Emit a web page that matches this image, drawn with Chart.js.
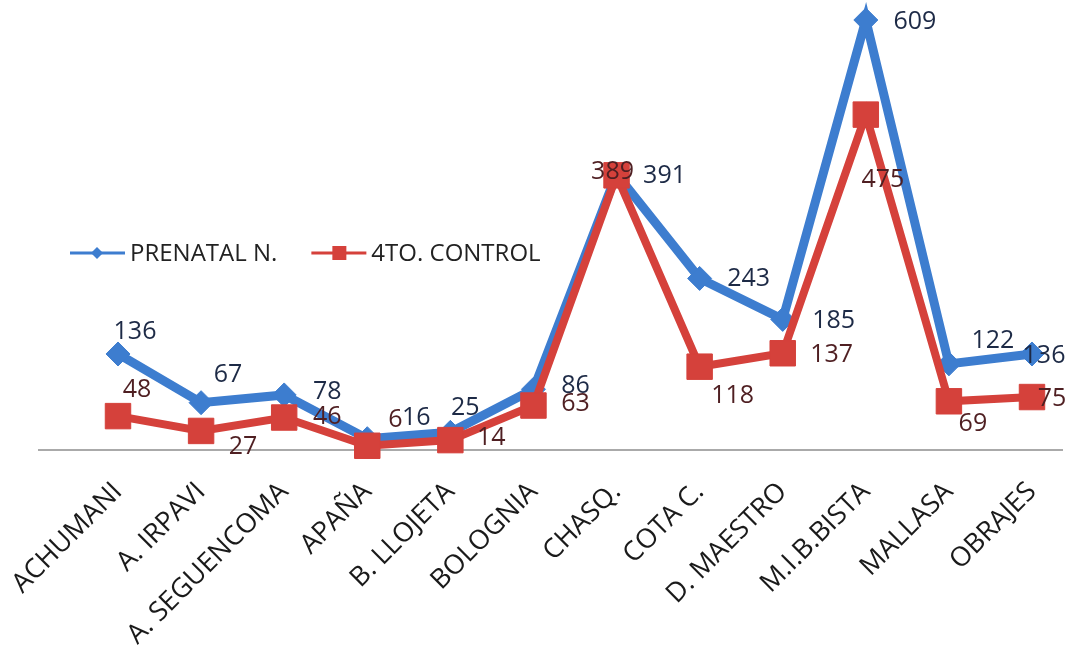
<!DOCTYPE html>
<html>
<head>
<meta charset="utf-8">
<script src="https://cdn.jsdelivr.net/npm/chart.js@4.4.1/dist/chart.umd.min.js"></script>
<style>
  body { margin: 0; background: #fff; }
  canvas { display: block; }
</style>
</head>
<body>
<canvas id="myChart" width="1068" height="657"></canvas>
<script>
    "use strict";

    // categories and values
    const centros = ['ACHUMANI', 'A. IRPAVI', 'A. SEGUENCOMA', 'APAÑA', 'B. LLOJETA', 'BOLOGNIA',
        'CHASQ.', 'COTA C.', 'D. MAESTRO', 'M.I.B.BISTA', 'MALLASA', 'OBRAJES'];
    const prenatal = [136, 67, 78, 16, 25, 86, 391, 243, 185, 609, 122, 136];
    const control4 = [48, 27, 46, 6, 14, 63, 389, 118, 137, 475, 69, 75];

    const BLUE = '#3d7dcf';
    const RED = '#d5413b';

    // label centre offsets from each point (px), per dataset
    const labelOffset = [
        [[17, -22], [27, -28], [43, -3], [49, -21], [15, -24], [42, -3], [48, 2], [49, 0], [51, 1], [49, 2], [44, -23], [12, 2]],
        [[19, -26], [42, 16], [43, -1], [28, -26], [41, -2], [42, -2], [-4, -3], [33, 29], [49, 2], [17, 65], [24, 23], [20, 2]]
    ];
    const labelColor = ['#1d2a46', '#4f1f22'];

    const valueLabels = {
        id: 'valueLabels',
        afterDatasetsDraw(chart) {
            const ctx = chart.ctx;
            ctx.save();
            ctx.font = '25px "Open Sans", sans-serif';
            ctx.textBaseline = 'middle';
            ctx.textAlign = 'center';
            chart.data.datasets.forEach((ds, di) => {
                const meta = chart.getDatasetMeta(di);
                meta.data.forEach((pt, i) => {
                    const off = labelOffset[di][i];
                    ctx.fillStyle = labelColor[di];
                    ctx.fillText(String(ds.data[i]), pt.x + off[0], pt.y + off[1]);
                });
            });
            ctx.restore();
        }
    };

    // baseline and the legend drawn inside the plot
    const decor = {
        id: 'decor',
        beforeDatasetsDraw(chart) {
            const ctx = chart.ctx;
            const y0 = chart.scales.y.getPixelForValue(0);
            ctx.save();
            ctx.strokeStyle = '#8e8e8e';
            ctx.lineWidth = 1.5;
            ctx.beginPath();
            ctx.moveTo(38, y0);
            ctx.lineTo(chart.width - 5, y0);
            ctx.stroke();
            ctx.restore();
        },
        afterDraw(chart) {
            const ctx = chart.ctx;
            const area = chart.chartArea;
            const ly = area.top + 233;
            let lx = area.left - 48;
            ctx.save();
            ctx.font = '24px "Open Sans", sans-serif';
            ctx.textBaseline = 'middle';
            ctx.textAlign = 'left';
            chart.data.datasets.forEach((ds, di) => {
                ctx.strokeStyle = ds.borderColor;
                ctx.lineWidth = 3;
                ctx.beginPath();
                ctx.moveTo(lx, ly);
                ctx.lineTo(lx + 55, ly);
                ctx.stroke();
                ctx.fillStyle = ds.borderColor;
                ctx.beginPath();
                if (di === 0) {
                    ctx.moveTo(lx + 27, ly - 6);
                    ctx.lineTo(lx + 33, ly);
                    ctx.lineTo(lx + 27, ly + 6);
                    ctx.lineTo(lx + 21, ly);
                    ctx.closePath();
                } else {
                    ctx.rect(lx + 21, ly - 7, 14, 14);
                }
                ctx.fill();
                ctx.fillStyle = '#222';
                ctx.fillText(ds.label, lx + 60, ly + 1);
                lx += 60 + ctx.measureText(ds.label).width + 34;
            });
            ctx.restore();
        }
    };

    var ctx = document.getElementById('myChart').getContext('2d');
    var chart = new Chart(ctx, {
        type: 'line',
        data: {
            labels: centros,
            datasets: [{
                label: 'PRENATAL N.',
                data: prenatal,
                borderColor: BLUE,
                backgroundColor: BLUE,
                borderWidth: 9,
                pointStyle: 'rectRot',
                pointRadius: 12,
                pointBorderWidth: 1,
                tension: 0,
                clip: false,
                order: 2
            }, {
                label: '4TO. CONTROL',
                data: control4,
                borderColor: RED,
                backgroundColor: RED,
                borderWidth: 8,
                pointStyle: 'rect',
                pointRadius: 18,
                pointBorderWidth: 1,
                tension: 0,
                clip: false,
                order: 1
            }]
        },
        options: {
            responsive: false,
            animation: false,
            layout: { padding: { left: 118, right: 36, top: 20, bottom: 0 } },
            plugins: {
                legend: { display: false },
                tooltip: { enabled: false }
            },
            scales: {
                x: {
                    offset: false,
                    grid: { display: false, drawTicks: false },
                    border: { display: false },
                    ticks: {
                        autoSkip: false,
                        maxRotation: 45,
                        minRotation: 45,
                        padding: 26,
                        color: '#1a1a1a',
                        font: { family: '"Open Sans", sans-serif', size: 27 }
                    },
                    afterFit: (s) => {
                        s.height = 207;
                        s.paddingLeft = 0;
                        s.paddingRight = 0;
                    }
                },
                y: {
                    display: false,
                    min: 0,
                    max: 609
                }
            }
        },
        plugins: [decor, valueLabels]
    });
</script>
</body>
</html>
